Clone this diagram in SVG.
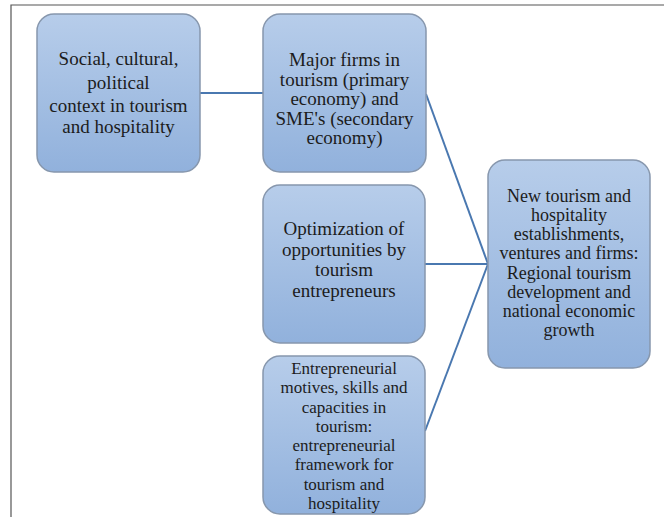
<svg xmlns="http://www.w3.org/2000/svg" width="664" height="517" viewBox="0 0 664 517">
<defs>
<linearGradient id="g" x1="0" y1="0" x2="0" y2="1">
<stop offset="0" stop-color="#b7cdea"/>
<stop offset="1" stop-color="#91b1dc"/>
</linearGradient>
</defs>
<style>
.box{fill:url(#g);stroke:#8797ad;stroke-width:1.5}
text{font-family:'Liberation Serif','DejaVu Serif',serif;font-size:19px;fill:#1c1c1c;text-anchor:middle}
.s{font-size:18px}
.xs{font-size:17px}
.c{stroke:#4a78b0;stroke-width:2;fill:none}
.frame{stroke:#555;stroke-width:1.2;fill:none}
</style>
<rect width="664" height="517" fill="#fff"/>
<path class="frame" d="M11,517 V5 H664"/>
<g id="connectors">
<line class="c" x1="200" y1="93" x2="263" y2="93"/>
<line class="c" x1="426" y1="94" x2="488" y2="264"/>
<line class="c" x1="425" y1="264" x2="488" y2="264"/>
<line class="c" x1="425" y1="431" x2="488" y2="264"/>
</g>
<g id="n1">
<rect class="box" x="37" y="14" width="163" height="158" rx="17"/>
<text x="118.5" y="65">Social, cultural,</text>
<text x="118.5" y="89">political</text>
<text x="118.5" y="112">context in tourism</text>
<text x="118.5" y="133">and hospitality</text>
</g>
<g id="n2">
<rect class="box" x="263" y="14" width="163" height="158" rx="17"/>
<text x="344.5" y="66">Major firms in</text>
<text x="344.5" y="86">tourism (primary</text>
<text x="344.5" y="105">economy) and</text>
<text x="344.5" y="125">SME's (secondary</text>
<text x="344.5" y="144">economy)</text>
</g>
<g id="n3">
<rect class="box" x="263" y="185" width="162" height="158" rx="17"/>
<text x="344" y="235">Optimization of</text>
<text x="344" y="256">opportunities by</text>
<text x="344" y="276">tourism</text>
<text x="344" y="297">entrepreneurs</text>
</g>
<g id="n4">
<rect class="box" x="263" y="356" width="162" height="158" rx="17"/>
<text class="xs" x="344" y="374">Entrepreneurial</text>
<text class="xs" x="344" y="393.3">motives, skills and</text>
<text class="xs" x="344" y="412.6">capacities in</text>
<text class="xs" x="344" y="431.9">tourism:</text>
<text class="xs" x="344" y="451.1">entrepreneurial</text>
<text class="xs" x="344" y="470.4">framework for</text>
<text class="xs" x="344" y="489.7">tourism and</text>
<text class="xs" x="344" y="509">hospitality</text>
</g>
<g id="n5">
<rect class="box" x="488" y="160" width="162" height="208" rx="17"/>
<text class="s" x="569" y="202">New tourism and</text>
<text class="s" x="569" y="221">hospitality</text>
<text class="s" x="569" y="240">establishments,</text>
<text class="s" x="569" y="259">ventures and firms:</text>
<text class="s" x="569" y="279">Regional tourism</text>
<text class="s" x="569" y="298">development and</text>
<text class="s" x="569" y="317">national economic</text>
<text class="s" x="569" y="336">growth</text>
</g>
</svg>
